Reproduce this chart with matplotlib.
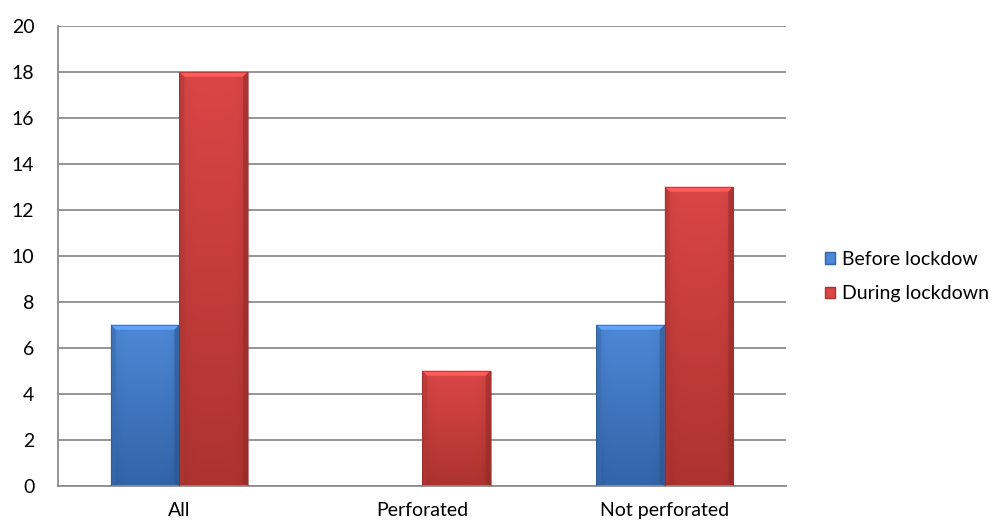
import numpy as np
import matplotlib
matplotlib.use("Agg")
import matplotlib.pyplot as plt
from matplotlib.patches import Rectangle, Polygon
from matplotlib.colors import to_rgb

categories = ["All", "Perforated", "Not perforated"]
series_names = ["Before lockdow", "During lockdown"]
before = [7, 0, 7]
during = [18, 5, 13]
y_ticks = [0, 2, 4, 6, 8, 10, 12, 14, 16, 18, 20]

top_colors = ["#4d88d6", "#da4646"]
bottom_colors = ["#3264a8", "#ad332f"]

plt.rcParams["font.family"] = ["Lato", "DejaVu Sans"]

fig = plt.figure(figsize=(10.04, 5.25), dpi=100)
ax = fig.add_axes([0.0578, 0.0749, 0.7251, 0.8761])

x = np.arange(len(categories))
width = 0.2826


def shade_bar(ax, patch, top, bottom):
    """Fill a bar with a vertical gradient and a bevelled rim."""
    x0, y0 = patch.get_x(), patch.get_y()
    w, h = patch.get_width(), patch.get_height()
    if h <= 0:
        return
    t = np.array(to_rgb(top))
    b = np.array(to_rgb(bottom))
    n = 256
    frac = np.linspace(0, 1, n)[:, None]
    grad = b + (t - b) * frac
    # darken slightly towards left/right edges
    xs = np.linspace(-1, 1, 64)
    edge = 1 - 0.10 * np.abs(xs) ** 6
    img = grad[:, None, :] * edge[None, :, None]
    im = ax.imshow(np.clip(img, 0, 1), extent=[x0, x0 + w, y0, y0 + h],
                   origin="lower", aspect="auto", zorder=2, interpolation="bilinear")
    im.set_clip_path(patch)

    # bevel geometry in display units -> data units
    to_data = ax.transData.inverted()
    p0 = to_data.transform((0, 0))
    p1 = to_data.transform((5, 5))
    bx = p1[0] - p0[0]
    by = p1[1] - p0[1]
    light = np.clip(t * 1.12 + 0.05, 0, 1)
    dark = np.clip(b * 0.85, 0, 1)
    side = np.clip((t + b) / 2 * 0.92, 0, 1)
    top_y = y0 + h
    ax.add_patch(Polygon([(x0, top_y), (x0 + w, top_y), (x0 + w - bx, top_y - by),
                          (x0 + bx, top_y - by)], closed=True, facecolor=light,
                         edgecolor="none", zorder=3))
    ax.add_patch(Polygon([(x0, top_y), (x0 + bx, top_y - by), (x0 + bx, y0 + by * 0.6),
                          (x0, y0)], closed=True, facecolor=side, alpha=0.55,
                         edgecolor="none", zorder=3))
    ax.add_patch(Polygon([(x0 + w, top_y), (x0 + w - bx, top_y - by),
                          (x0 + w - bx, y0 + by * 0.6), (x0 + w, y0)], closed=True,
                         facecolor=dark, alpha=0.55, edgecolor="none", zorder=3))
    ax.add_patch(Rectangle((x0, y0), w, h, facecolor="none", edgecolor=dark,
                           linewidth=0.6, alpha=0.7, zorder=4))


bars_b = ax.bar(x - width / 2, before, width, color=top_colors[0], label=series_names[0], zorder=1)
bars_d = ax.bar(x + width / 2, during, width, color=top_colors[1], label=series_names[1], zorder=1)

ax.set_xlim(-0.5, len(categories) - 0.5)
ax.set_ylim(0, 20)
ax.set_yticks(y_ticks)
ax.set_xticks(x)
ax.set_xticklabels(categories)

for bars, tc, bc in [(bars_b, top_colors[0], bottom_colors[0]), (bars_d, top_colors[1], bottom_colors[1])]:
    for p in bars:
        p.set_facecolor("none")
        shade_bar(ax, p, tc, bc)

ax.yaxis.grid(True, color="#8c8c8c", linewidth=1.3, zorder=0)
ax.set_axisbelow(True)
for side in ["top", "right"]:
    ax.spines[side].set_visible(False)
ax.spines["left"].set_color("#8c8c8c")
ax.spines["bottom"].set_color("#8c8c8c")
ax.spines["left"].set_linewidth(1.3)
ax.spines["bottom"].set_linewidth(1.3)
ax.tick_params(axis="both", length=0, labelsize=14, colors="#000000")
ax.tick_params(axis="y", pad=17)
ax.tick_params(axis="x", pad=12)
for lbl in ax.get_yticklabels():
    lbl.set_horizontalalignment("right")

handles = [Rectangle((0, 0), 1, 1, facecolor=top_colors[0], edgecolor=bottom_colors[0]),
           Rectangle((0, 0), 1, 1, facecolor=top_colors[1], edgecolor=bottom_colors[1])]
fig.legend(handles, series_names, loc="center left", bbox_to_anchor=(0.804, 0.473),
           frameon=False, fontsize=14, handlelength=0.55, handleheight=0.55,
           handletextpad=0.35, labelspacing=0.9)

fig.savefig("out.png", dpi=100)
